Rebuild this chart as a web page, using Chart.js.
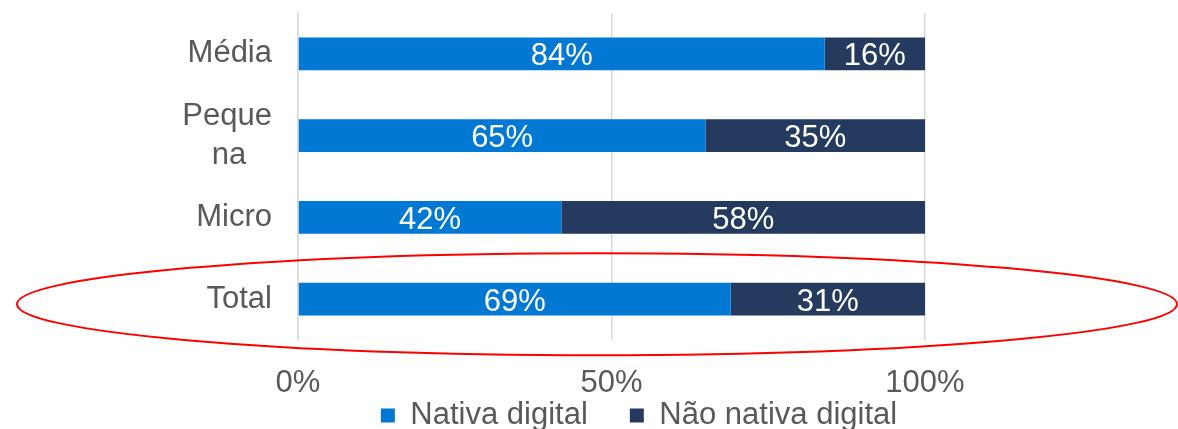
<!DOCTYPE html>
<html>
<head>
<meta charset="utf-8">
<script src="https://cdn.jsdelivr.net/npm/chart.js@4"></script>
<style>
  html, body { margin: 0; padding: 0; background: #fff; overflow: hidden; }
  #wrap { width: 1178px; height: 483px; position: relative; }
</style>
</head>
<body>
<div id="wrap"><canvas id="barChart"></canvas></div>
<script>
// categorias e valores (%)
const categories = ['Média', ['Peque', 'na\u00a0\u00a0\u00a0'], 'Micro', 'Total'];
const nativa = [84, 65, 42, 69];
const naoNativa = [16, 35, 58, 31];
const xTicks = [0, 50, 100];

const BLUE = '#0078d4';
const NAVY = '#243a5e';
const GRAY_TXT = '#595959';
const FONT = "'Liberation Sans', Arial, sans-serif";

// rótulos brancos dentro das barras
const barLabels = {
    id: 'barLabels',
    afterDatasetsDraw(chart) {
        const ctx = chart.ctx;
        ctx.save();
        ctx.font = '31px ' + FONT;
        ctx.fillStyle = '#ffffff';
        ctx.textAlign = 'center';
        ctx.textBaseline = 'middle';
        chart.data.datasets.forEach((ds, i) => {
            chart.getDatasetMeta(i).data.forEach((bar, j) => {
                const cx = (bar.x + bar.base) / 2;
                ctx.fillText(ds.data[j] + '%', cx, bar.y + 3);
            });
        });
        ctx.restore();
    }
};

// elipse vermelha em volta do Total
const totalEllipse = {
    id: 'totalEllipse',
    afterDraw(chart) {
        const ctx = chart.ctx;
        const cy = chart.scales.y.getPixelForValue(3) + 5;
        ctx.save();
        ctx.strokeStyle = '#ff0000';
        ctx.lineWidth = 2;
        ctx.beginPath();
        ctx.ellipse(597, cy, 580, 51, 0, 0, Math.PI * 2);
        ctx.stroke();
        ctx.restore();
    }
};

// sobe a legenda para ficar colada aos ticks
const legendShift = {
    id: 'legendShift',
    afterLayout(chart) {
        chart.legend.top -= 42;
        chart.legend.bottom -= 42;
    }
};

new Chart(document.getElementById('barChart').getContext('2d'), {
    type: 'bar',
    data: {
        labels: categories,
        datasets: [
            { label: 'Nativa digital', data: nativa, backgroundColor: BLUE },
            { label: 'Não nativa digital', data: naoNativa, backgroundColor: NAVY }
        ]
    },
    options: {
        indexAxis: 'y',
        responsive: true,
        maintainAspectRatio: false,
        animation: false,
        barPercentage: 0.4,
        categoryPercentage: 1,
        layout: { padding: { top: 13, left: 100, right: 0, bottom: 0 } },
        scales: {
            x: {
                stacked: true,
                min: 0,
                max: 100,
                afterBuildTicks: (scale) => { scale.ticks = xTicks.map(v => ({ value: v })); },
                afterFit: (scale) => { scale.height = 60; },
                grid: { color: '#d9d9d9', lineWidth: 1.5, drawTicks: false },
                border: { display: false },
                ticks: {
                    padding: 28,
                    color: GRAY_TXT,
                    font: { family: FONT, size: 31, lineHeight: 1 },
                    callback: (v) => v + '%'
                }
            },
            y: {
                stacked: true,
                afterFit: (scale) => {
                    scale.width = 198;
                    scale.paddingTop = 0;
                    scale.paddingBottom = 0;
                },
                grid: { display: false, drawTicks: false },
                border: { color: '#d9d9d9', width: 1.5 },
                ticks: {
                    autoSkip: false,
                    padding: 26,
                    color: GRAY_TXT,
                    font: { family: FONT, size: 31, lineHeight: 1.25 }
                }
            },
            // espaço vazio à direita
            y2: {
                type: 'linear',
                position: 'right',
                afterFit: (scale) => { scale.width = 253; },
                grid: { display: false, drawTicks: false },
                border: { display: false },
                ticks: { display: false }
            }
        },
        plugins: {
            legend: {
                position: 'bottom',
                labels: {
                    boxWidth: 14,
                    boxHeight: 14,
                    padding: 42,
                    color: GRAY_TXT,
                    font: { family: FONT, size: 31 }
                }
            },
            tooltip: { enabled: false }
        }
    },
    plugins: [barLabels, totalEllipse, legendShift]
});
</script>
</body>
</html>
